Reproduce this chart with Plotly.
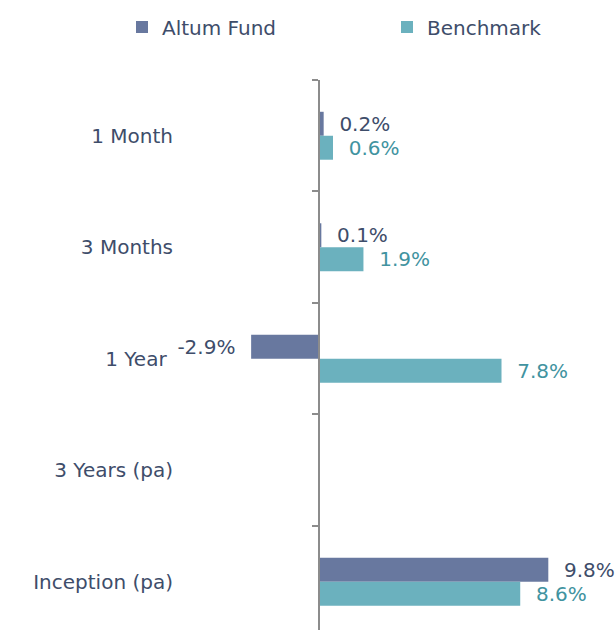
import plotly.graph_objects as go

categories = ["1 Month", "3 Months", "1 Year", "3 Years (pa)", "Inception (pa)"]
fund = [0.2, 0.1, -2.9, None, 9.8]
benchmark = [0.6, 1.9, 7.8, None, 8.6]
series_names = ["Altum Fund", "Benchmark"]

FUND_C = "#68789F"
BENCH_C = "#6BB1BE"
TEXT_C = "#3E4D6A"
BENCH_TEXT_C = "#4193A0"
AXIS_C = "#8C8C8C"
FONT = "DejaVu Sans"

NB = "\u00a0"


def labels(vals):
    out = []
    for v in vals:
        if v is None:
            out.append("")
        elif v >= 0:
            out.append(NB * 2 + f"{v:.1f}%")
        else:
            out.append(f"{v:.1f}%" + NB * 2)
    return out


tick_text = [c + NB if c == "1 Year" else c for c in categories]

ypos = list(range(len(categories)))
xmin, xmax = -5.94, 12.65
yrange = [4.433, -0.5]

fig = go.Figure()
fig.add_trace(go.Bar(
    y=ypos, x=fund, orientation="h", name=series_names[0], legend="legend",
    marker=dict(color=FUND_C, line=dict(width=0)),
    text=labels(fund), textposition="outside", cliponaxis=False,
    constraintext="none",
    textfont=dict(family=FONT, size=20, color=TEXT_C),
))
fig.add_trace(go.Bar(
    y=ypos, x=benchmark, orientation="h", name=series_names[1], legend="legend2",
    marker=dict(color=BENCH_C, line=dict(width=0)),
    text=labels(benchmark), textposition="outside", cliponaxis=False,
    constraintext="none",
    textfont=dict(family=FONT, size=20, color=BENCH_TEXT_C),
))
# empty trace to anchor the category-divider axis on the zero line
fig.add_trace(go.Scatter(x=[], y=[], yaxis="y2", showlegend=False, hoverinfo="skip"))

legend_common = dict(
    orientation="h", xref="container", yref="container",
    y=1 - 27 / 630, xanchor="left", yanchor="middle",
    font=dict(family=FONT, size=20, color=TEXT_C),
    bgcolor="rgba(0,0,0,0)",
)

fig.update_layout(
    width=615, height=630,
    margin=dict(l=180, r=0, t=80, b=0, autoexpand=False),
    paper_bgcolor="white", plot_bgcolor="white",
    barmode="group", bargap=0.57, bargroupgap=0,
    font=dict(family=FONT, size=20, color=TEXT_C),
    showlegend=True,
    legend=dict(x=122 / 615, **legend_common),
    legend2=dict(x=387 / 615, **legend_common),
    xaxis=dict(range=[xmin, xmax], showticklabels=False, showgrid=False,
               zeroline=False, showline=False, ticks=""),
    yaxis=dict(range=yrange, tickmode="array", tickvals=ypos, ticktext=tick_text,
               showgrid=False, zeroline=False, showline=False, ticks="",
               ticklabelstandoff=6,
               tickfont=dict(family=FONT, size=20, color=TEXT_C)),
    yaxis2=dict(range=yrange, overlaying="y", anchor="free", side="left",
                position=(0 - xmin) / (xmax - xmin),
                tickmode="array", tickvals=[i - 0.5 for i in range(len(categories) + 1)],
                showticklabels=False, ticks="outside", ticklen=6, tickwidth=2,
                tickcolor=AXIS_C, showline=True, linecolor=AXIS_C, linewidth=2,
                showgrid=False, zeroline=False),
)

fig.write_html("out.html", config={"displayModeBar": False},
               post_script="document.body.style.margin='0';")
